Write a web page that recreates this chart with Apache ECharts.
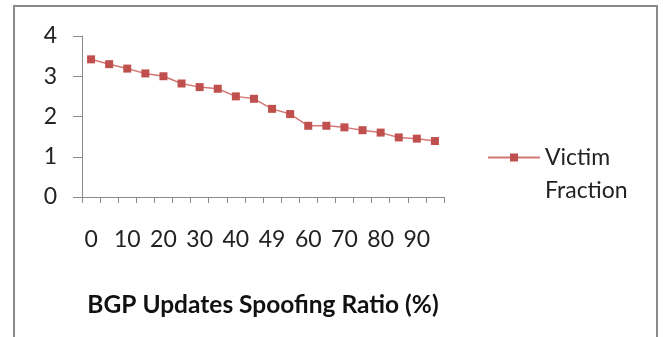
<!DOCTYPE html>
<html><head><meta charset="utf-8">
<script src="https://cdn.jsdelivr.net/npm/echarts@6/dist/echarts.min.js"></script>
<style>html,body{margin:0;padding:0;background:#fff}#c{width:663px;height:337px}</style>
</head><body><div id="c"></div>
<script>
const categories = ['0','5','10','15','20','25','30','35','40','45','49','55','60','65','70','75','80','85','90','95'];
const victimFraction = [3.42,3.30,3.19,3.07,3.00,2.82,2.73,2.69,2.50,2.44,2.19,2.06,1.77,1.77,1.73,1.66,1.60,1.48,1.45,1.39];
const yTicks = [0,1,2,3,4];
const seriesName = 'Victim Fraction';
const xTitle = 'BGP Updates Spoofing Ratio (%)';

const FONT = 'Lato, "Open Sans", sans-serif';
const chart = echarts.init(document.getElementById('c'), null, {renderer:'canvas'});
chart.setOption({
  animation:false,
  backgroundColor:'#fff',
  graphic:[{type:'rect', shape:{x:14,y:6,width:643,height:340}, style:{fill:'none', stroke:'#8a8a8a', lineWidth:2}, z:-1}],
  grid:{left:82,right:219,top:36,bottom:140,containLabel:false},
  legend:{
    left:482, top:103, itemWidth:52, itemHeight:10, itemGap:0,
    data:[{name:seriesName}],
    formatter: n => '\n' + n.replace(' ', '\n'),
    textStyle:{fontFamily:FONT, fontSize:23, color:'#222', lineHeight:33}
  },
  xAxis:{
    type:'category', data:categories, boundaryGap:true,
    name:xTitle, nameLocation:'middle', nameGap:96,
    nameTextStyle:{fontFamily:FONT, fontSize:24.5, fontWeight:'bold', color:'#111'},
    axisLine:{lineStyle:{color:'#8a8a8a', width:1}},
    axisTick:{show:true, length:6, interval:0, alignWithLabel:false, lineStyle:{color:'#8a8a8a'}},
    axisLabel:{interval:1, margin:31, fontFamily:FONT, fontSize:23, color:'#222'},
    splitLine:{show:false}
  },
  yAxis:{
    type:'value', min:0, max:4, interval:1,
    axisLine:{show:true, lineStyle:{color:'#8a8a8a', width:1}},
    axisTick:{show:true, length:9, lineStyle:{color:'#8a8a8a'}},
    axisLabel:{margin:25, fontFamily:FONT, fontSize:23, color:'#222', formatter: v => yTicks.includes(v) ? String(v) : ''},
    splitLine:{show:false}
  },
  series:[{
    name:seriesName, type:'line', data:victimFraction,
    symbol:'rect', symbolSize:8, showSymbol:true,
    lineStyle:{color:'#d47775', width:1.5},
    itemStyle:{color:'#c0504d', borderWidth:0}
  }]
});
</script></body></html>
